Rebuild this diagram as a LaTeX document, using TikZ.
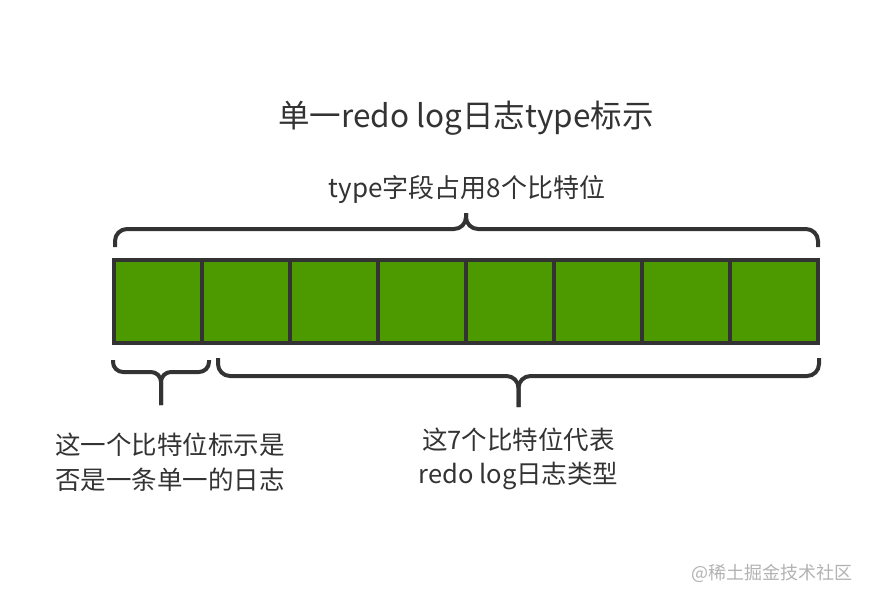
\documentclass[tikz,border=0pt]{standalone}
\usepackage{fontspec}
\setmainfont{Noto Sans CJK SC}
\usetikzlibrary{calc,positioning}
\definecolor{bitgreen}{HTML}{4C9900}
\definecolor{ink}{HTML}{333333}
\tikzset{
  cell/.style={draw=ink,line width=4pt,fill=bitgreen,inner sep=0pt,outer sep=0pt,
    minimum width=88pt,minimum height=83pt},
  brace/.style={draw=ink,line width=4pt,rounded corners=12pt},
  label/.style={text=ink,inner sep=0pt,align=center}
}

\begin{document}
\begin{tikzpicture}[x=1pt,y=-1pt]
  \useasboundingbox (0,0) rectangle (871,603);
  % title
  \node[label,font=\fontsize{31.5}{36}\selectfont] (title) at (466,118) {单一redo log日志type标示};
  \node[label,font=\fontsize{26}{30}\selectfont] (width) at (467,190) {type字段占用8个比特位};
  % the 8 bits
  \node[cell] (b1) at (158,301.5) {};
  \foreach \i [remember=\i as \j (initially 1)] in {2,...,8}
    \node[cell,right=0pt of b\j] (b\i) {};
  % brace over all 8 bits
  \coordinate (tl) at ($(b1.north west)+(1,-13)$);
  \coordinate (tr) at ($(b8.north east)+(0,-13)$);
  \coordinate (tt) at ($(b4.north east)+(0,-47)$);
  \draw[brace] (tl) -- ++(0,-18) -| (tt);
  \draw[brace] (tr) -- ++(0,-18) -| (tt);
  % brace under the first bit
  \coordinate (sl) at ($(b1.south west)+(-1,17)$);
  \coordinate (sr) at ($(b2.south west)+(7,17)$);
  \coordinate (st) at ($(sl)!0.5!(sr)+(0,45)$);
  \draw[brace,rounded corners=10pt] (sl) -- ++(0,12) -| (st);
  \draw[brace,rounded corners=10pt] (sr) -- ++(0,12) -| (st);
  % brace under the other 7 bits
  \coordinate (bl) at ($(b2.south west)+(16,15)$);
  \coordinate (br) at ($(b8.south east)+(1,15)$);
  \coordinate (bt) at ($(bl)!0.5!(br)+(0,49)$);
  \draw[brace] (bl) -- ++(0,18) -| (bt);
  \draw[brace] (br) -- ++(0,18) -| (bt);
  % notes
  \node[label,font=\fontsize{25.5}{35}\selectfont] (flag) at (170,462) {这一个比特位标示是\\否是一条单一的日志};
  \node[label,font=\fontsize{25.5}{34}\selectfont] (kind) at (bt |- 0,459) {这7个比特位代表\\redo log日志类型};
  \node[label,text=black!30,font=\fontsize{18}{20}\selectfont] (mark) at (772,573) {@稀土掘金技术社区};
\end{tikzpicture}
\end{document}
